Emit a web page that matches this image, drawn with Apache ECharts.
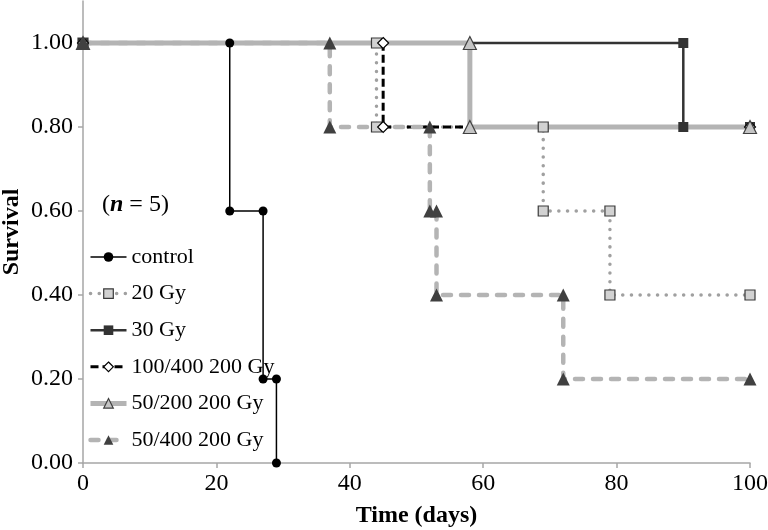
<!DOCTYPE html>
<html>
<head>
<meta charset="utf-8">
<script src="https://cdn.jsdelivr.net/npm/echarts@6/dist/echarts.min.js"></script>
<style>
html,body{margin:0;padding:0;background:#fff;}
#chart{width:768px;height:530px;}
</style>
</head>
<body>
<div id="chart"></div>
<script>
// ---- data ----
const seriesNames = ['control', '20 Gy', '30 Gy', '100/400 200 Gy', '50/200 200 Gy', '50/400 200 Gy'];
const daysControl = [0, 22, 22, 27, 27, 29, 29];
const survControl = [1, 1, 0.6, 0.6, 0.2, 0.2, 0];
const days20 = [0, 44, 44, 69, 69, 79, 79, 100];
const surv20 = [1, 1, 0.8, 0.8, 0.6, 0.6, 0.4, 0.4];
const days30 = [0, 90, 90, 100];
const surv30 = [1, 1, 0.8, 0.8];
const days100_400 = [0, 45, 45, 100];
const surv100_400 = [1, 1, 0.8, 0.8];
const days50_200 = [0, 58, 58, 100];
const surv50_200 = [1, 1, 0.8, 0.8];
const days50_400 = [0, 37, 37, 52, 52, 53, 53, 72, 72, 100];
const surv50_400 = [1, 1, 0.8, 0.8, 0.6, 0.6, 0.4, 0.4, 0.2, 0.2];
const xTicks = [0, 20, 40, 60, 80, 100];
const yTicks = [0, 0.2, 0.4, 0.6, 0.8, 1.0];

const allDays = [daysControl, days20, days30, days100_400, days50_200, days50_400];
const allSurv = [survControl, surv20, surv30, surv100_400, surv50_200, surv50_400];

// ---- styles ----
const styles = [
  {line: {color: '#000000', width: 1.5, type: 'solid'}, symbol: 'circle', size: 9,
   item: {color: '#000000', borderColor: '#000000', borderWidth: 0}},
  {line: {color: '#a0a0a0', width: 3.5, type: [0.1, 8.6], cap: 'round'}, symbol: 'rect', size: 10,
   item: {color: '#d2d2d2', borderColor: '#3a3a3a', borderWidth: 1.2}},
  {line: {color: '#333333', width: 2.5, type: 'solid'}, symbol: 'rect', size: 10,
   item: {color: '#333333', borderColor: '#333333', borderWidth: 0}},
  {line: {color: '#000000', width: 3, type: [8, 4]}, symbol: 'diamond', size: 11,
   item: {color: '#ffffff', borderColor: '#000000', borderWidth: 1.2}},
  {line: {color: '#b4b4b4', width: 5, type: 'solid'}, symbol: 'triangle', size: 13,
   item: {color: '#c4c4c4', borderColor: '#404040', borderWidth: 1.2}},
  {line: {color: '#b4b4b4', width: 4.5, type: [8, 10], cap: 'round'}, symbol: 'triangle', size: 13,
   item: {color: '#404040', borderColor: '#404040', borderWidth: 0}}
];

const serif = '"Liberation Serif", "Times New Roman", serif';

const series = [];
seriesNames.forEach((name, i) => {
  const pts = allDays[i].map((d, k) => [d, allSurv[i][k]]);
  series.push({
    type: 'line', name: name, data: pts, z: 2,
    symbol: styles[i].symbol, symbolSize: styles[i].size, showSymbol: false,
    lineStyle: styles[i].line, itemStyle: styles[i].item,
    silent: true, emphasis: {disabled: true}
  });
});
seriesNames.forEach((name, i) => {
  const pts = allDays[i].map((d, k) => [d, allSurv[i][k]]);
  series.push({
    type: 'scatter', name: name, data: pts, z: 3,
    symbol: styles[i].symbol, symbolSize: styles[i].size,
    itemStyle: Object.assign({opacity: 1}, styles[i].item),
    silent: true, emphasis: {disabled: true}
  });
});

const chart = echarts.init(document.getElementById('chart'), null, {renderer: 'canvas'});
chart.setOption({
  animation: false,
  backgroundColor: '#ffffff',
  grid: {left: 83, right: 18, top: 1, bottom: 67, containLabel: false, outerBoundsMode: 'none'},
  xAxis: {
    type: 'value', min: 0, max: 100, interval: 20,
    name: 'Time (days)', nameLocation: 'middle', nameGap: 41,
    nameTextStyle: {fontFamily: serif, fontWeight: 'bold', fontSize: 24, color: '#000'},
    axisLine: {lineStyle: {color: '#a6a6a6', width: 1.5}},
    axisTick: {show: true, inside: false, length: 5, lineStyle: {color: '#a6a6a6', width: 1.5}},
    axisLabel: {fontFamily: serif, fontSize: 24, color: '#000', margin: 9,
      customValues: xTicks, formatter: v => String(v)},
    splitLine: {show: false}
  },
  yAxis: {
    type: 'value', min: 0, max: 1.1, interval: 0.2,
    name: 'Survival', nameLocation: 'middle', nameGap: 59, nameMoveOverlap: false,
    nameTextStyle: {fontFamily: serif, fontWeight: 'bold', fontSize: 24, color: '#000'},
    axisLine: {show: true, lineStyle: {color: '#a6a6a6', width: 1.5}},
    axisTick: {show: true, inside: false, length: 5, lineStyle: {color: '#a6a6a6', width: 1.5},
      customValues: yTicks},
    axisLabel: {fontFamily: serif, fontSize: 24, color: '#000', margin: 10,
      customValues: yTicks, formatter: v => (v > 1.05 ? '' : v.toFixed(2))},
    splitLine: {show: false}
  },
  legend: {
    orient: 'vertical', left: 88, top: 246, align: 'left', padding: 0,
    itemWidth: 36, itemHeight: 12, itemGap: 14.6,
    selectedMode: false,
    textStyle: {fontFamily: serif, fontSize: 22, color: '#000', lineHeight: 22},
    data: seriesNames.map((n, i) => ({
      name: n,
      itemStyle: styles[i].item,
      lineStyle: styles[i].line
    }))
  },
  graphic: [{
    type: 'text', left: 102, top: 193,
    style: {
      text: '({n|n} = 5)',
      fontFamily: serif, fontSize: 24, fill: '#000',
      rich: {n: {fontFamily: serif, fontSize: 24, fontWeight: 'bold', fontStyle: 'italic', fill: '#000'}}
    }
  }],
  series: series
});
</script>
</body>
</html>
